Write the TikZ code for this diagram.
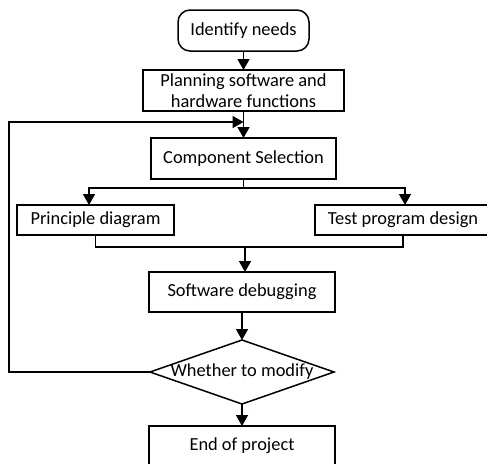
\documentclass[tikz,border=0pt]{standalone}
\usepackage{fontspec}
\setmainfont{Carlito}
\usetikzlibrary{arrows.meta,shapes.geometric}
\begin{document}
\begin{tikzpicture}[x=0.5pt,y=-0.5pt,line width=0.75pt,>={Triangle[length=5.5pt,width=6pt]},
    every node/.style={inner sep=1,outer sep=0,font=\fontsize{9.2}{10.8}\selectfont},
    box/.style={draw,rectangle,align=center}]
	\useasboundingbox (0,0) rectangle (487,463);
	\node (0) [box,rounded corners=6pt,minimum width=65.5pt,minimum height=20.5pt] at (243.5,30.5) {Identify needs};
	\node (1) [box,minimum width=100.5pt,minimum height=20.5pt] at (243.5,90.5) {Planning software and\\hardware functions};
	\node (2) [box,minimum width=92.5pt,minimum height=20.5pt] at (243.5,158.5) {Component Selection};
	\node (3) [box,minimum width=78.5pt,minimum height=15pt] at (95.5,220) {Principle diagram};
	\node (4) [box,minimum width=88pt,minimum height=15pt] at (403,220) {Test program design};
	\node (5) [box,minimum width=93pt,minimum height=20pt] at (242,292) {Software debugging};
	\node (6) [draw,diamond,inner sep=0,minimum width=92pt,minimum height=32pt,label=center:{Whether to modify}] at (242,372) {};
	\node (7) [box,minimum width=93pt,minimum height=20pt] at (242,446) {End of project};
	\coordinate (8) at (89,188);
	\coordinate (9) at (405,188);
	\coordinate (10) at (245,247);
	\coordinate (11) at (9,122);
    \path[->]
        (0) edge (1)
        (1) edge (2)
        (5) edge (6)
        (6) edge (7);
    \draw[->] (2.south) |- (8) -- (8 |- 3.north);
    \draw[->] (2.south) |- (9) -- (9 |- 4.north);
    \draw (3.south) |- (10) -| (4.south);
    \draw[->] (10) -- (10 |- 5.north);
    \draw[->] (6.west) -| (11) -- (11 -| 1.south);
\end{tikzpicture}
\end{document}
